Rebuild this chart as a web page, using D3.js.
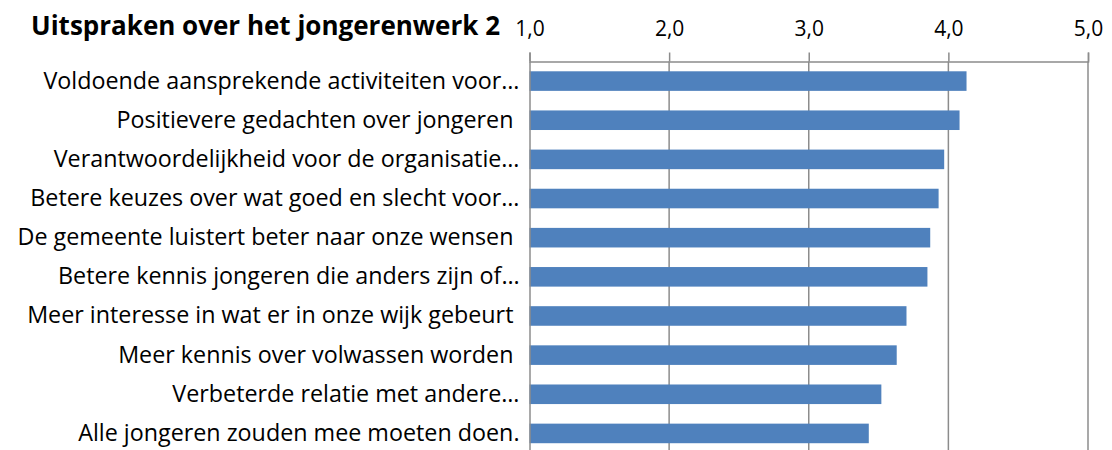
<!DOCTYPE html>
<html><head><meta charset="utf-8">
<script src="https://cdn.jsdelivr.net/npm/d3@7"></script>
<style>body{margin:0;background:#fff}svg{display:block}</style>
</head><body>
<svg id="c" width="1112" height="450"></svg>
<script>
const categories = [
  "Voldoende aansprekende activiteiten voor…",
  "Positievere gedachten over jongeren ",
  "Verantwoordelijkheid voor de organisatie…",
  "Betere keuzes over wat goed en slecht voor…",
  "De gemeente luistert beter naar onze wensen ",
  "Betere kennis jongeren die anders zijn of…",
  "Meer interesse in wat er in onze wijk gebeurt ",
  "Meer kennis over volwassen worden ",
  "Verbeterde relatie met andere…",
  "Alle jongeren zouden mee moeten doen."
];
const values = [4.13, 4.08, 3.97, 3.93, 3.87, 3.85, 3.70, 3.63, 3.52, 3.43];
const tickValues = [1, 2, 3, 4, 5];
const title = "Uitspraken over het jongerenwerk 2";

const svg = d3.select("#c");
const font = "'Open Sans', sans-serif";
const pLeft = 529.5, pRight = 1088, pTop = 61.5, pBottom = 453;

const x = d3.scaleLinear().domain([1, 5]).range([pLeft, pRight]);
const y = d3.scaleBand().domain(categories).range([pTop, pBottom]).paddingInner(0.5).paddingOuter(0.25);

svg.append("g").selectAll("line").data(tickValues.slice(1)).join("line")
  .attr("x1", d => x(d)).attr("x2", d => x(d))
  .attr("y1", pTop).attr("y2", pBottom)
  .attr("stroke", "#8c8c8c").attr("stroke-width", 1.5);

svg.append("g").selectAll("rect").data(values).join("rect")
  .attr("x", x(1))
  .attr("y", (d, i) => y(categories[i]))
  .attr("width", d => x(d) - x(1))
  .attr("height", y.bandwidth())
  .attr("fill", "#4F81BD");

const xAxis = d3.axisTop(x).tickValues(tickValues).tickSize(9).tickPadding(17)
  .tickFormat(d => d3.format(".1f")(d).replace(".", ","));
const gx = svg.append("g").attr("transform", `translate(0,${pTop})`).call(xAxis);
gx.select(".domain").attr("stroke", "#8c8c8c").attr("stroke-width", 1.5);
gx.selectAll(".tick line").attr("stroke", "#8c8c8c").attr("stroke-width", 1.5);
gx.selectAll(".tick text").attr("font-family", font).attr("font-size", 21).attr("fill", "#000");

const yAxis = d3.axisLeft(y).tickSize(0).tickPadding(10);
const gy = svg.append("g").attr("transform", `translate(${pLeft},0)`).call(yAxis);
gy.select(".domain").attr("stroke", "#8c8c8c").attr("stroke-width", 1.5);
gy.selectAll(".tick text").attr("font-family", font).attr("font-size", 23.3).attr("fill", "#000")
  .style("white-space", "pre");

svg.append("text").attr("x", 500).attr("y", 35).attr("text-anchor", "end")
  .attr("font-family", font).attr("font-weight", "bold").attr("font-size", 26)
  .attr("fill", "#000").text(title);
</script>
</body></html>
